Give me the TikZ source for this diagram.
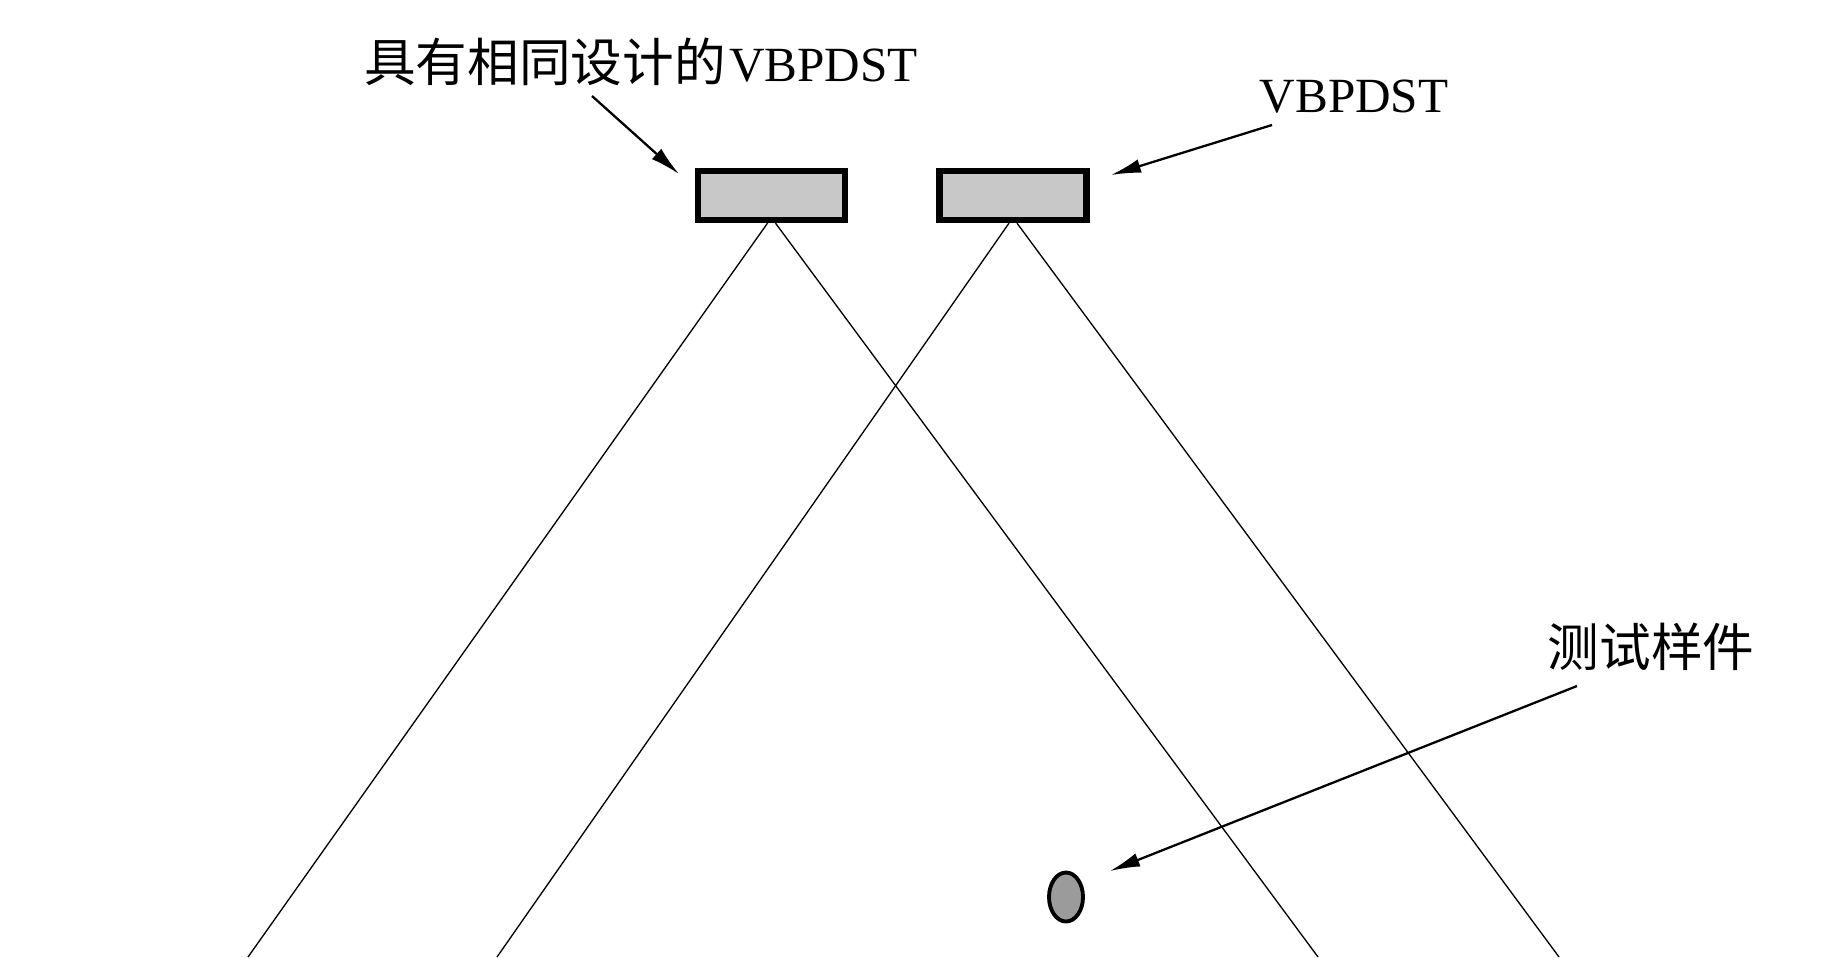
\documentclass[tikz,border=0pt]{standalone}
\usepackage{fontspec}
\setmainfont{Liberation Serif}
\newfontfamily\cjk[Scale=1.05]{Noto Sans CJK SC}
\usetikzlibrary{arrows.meta,calc,shapes.geometric}
\definecolor{boxgray}{RGB}{200,200,200}
\definecolor{dotgray}{RGB}{155,155,155}

\begin{document}
\begin{tikzpicture}[x=0.02cm,y=-0.02cm,
  lbl/.style={font=\fontsize{28}{30}\selectfont,inner sep=0pt},
  sensor/.style={draw,line width=3.6pt,fill=boxgray,minimum width=2.94cm,minimum height=0.98cm,inner sep=0pt},
  beam/.style={line width=0.75pt},
  pointer/.style={line width=1.3pt,-{Latex[length=6mm,width=2.8mm]}}]
\useasboundingbox (0,0) rectangle (1844,957);
% Sensors and specimen
\node[sensor] (ref) at (771.5,195.5) {};
\node[sensor] (test) at (1013,195.5) {};
\node[draw,ellipse,line width=2.2pt,fill=dotgray,minimum width=0.68cm,minimum height=0.98cm,inner sep=0pt] (spec) at (1066,897) {};
% Labels
\node[lbl] (refl) at (641,62) {{\cjk 具有相同设计的}\kern2pt VBPDST};
\node[lbl] (testl) at (1354,97) {VBPDST};
\node[lbl] (specl) at (1651,647) {\cjk 测试样件};
% Beams: run off the lower edge
\coordinate (refL) at (248,957); \coordinate (refR) at (1318,957);
\coordinate (testL) at (497,957); \coordinate (testR) at (1559,957);
\draw[beam] ($(ref.south)+(-4,0)$) -- (refL);
\draw[beam] ($(ref.south)+(4,0)$) -- (refR);
\draw[beam] ($(test.south)+(-4,0)$) -- (testL);
\draw[beam] ($(test.south)+(4,0)$) -- (testR);
% Pointers
\coordinate (p1) at (592,96); \coordinate (t1) at (679,174);
\coordinate (p2) at (1272,125); \coordinate (t2) at (1111,175);
\coordinate (p3) at (1577,686); \coordinate (t3) at (1110,871);
\draw[pointer] (p1) -- (t1);
\draw[pointer] (p2) -- (t2);
\draw[pointer] (p3) -- (t3);
\end{tikzpicture}
\end{document}
